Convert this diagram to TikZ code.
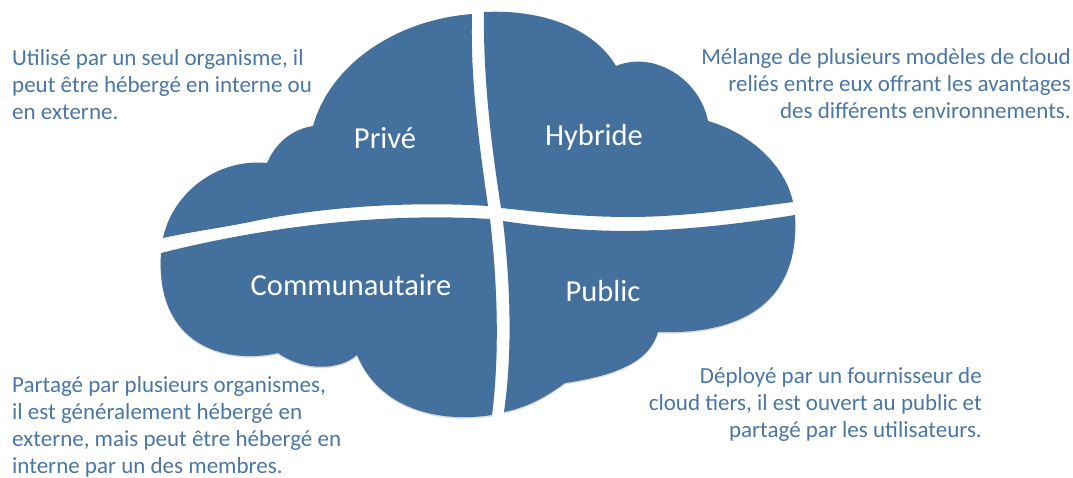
\documentclass[tikz,border=0pt]{standalone}
\usepackage{fontspec}
\setmainfont{Carlito}
\definecolor{cloudblue}{HTML}{43709D}
\definecolor{textblue}{HTML}{4A76A3}
\tikzset{
  quarter/.style={fill=cloudblue,draw=none},
  lowquarter/.style={quarter,preaction={fill=black!14,transform canvas={yshift=-1.5pt}}},
  title/.style={text=white,font=\fontsize{30.5}{36}\selectfont,inner sep=0pt},
  desc/.style={text=textblue,font=\fontsize{23}{27}\selectfont,inner sep=0pt}
}
\begin{document}
\begin{tikzpicture}[x=1pt,y=-1pt]
\useasboundingbox (0,0) rectangle (1073,477);
% Prive
\path[quarter] (163,238) .. controls (172,195) and (215,158) .. (267,163)
 .. controls (276,142) and (293,129) .. (313,126)
 .. controls (330,65) and (395,20) .. (472,14)
 .. controls (470,80) and (480,150) .. (488,206)
 .. controls (410,201) and (320,207) .. (250,222)
 .. controls (220,228) and (190,232) .. (163,238) -- cycle;
% Hybride
\path[quarter] (484,12) .. controls (545,9) and (595,30) .. (616,66)
 .. controls (655,50) and (700,80) .. (708,121)
 .. controls (750,133) and (785,165) .. (793,202)
 .. controls (740,209) and (680,217) .. (630,217)
 .. controls (580,217) and (540,212) .. (501,208)
 .. controls (492,150) and (483,80) .. (484,12) -- cycle;
% Communautaire
\path[lowquarter] (161,253) .. controls (260,228) and (380,212) .. (490,219)
 .. controls (497,280) and (500,350) .. (492,415)
 .. controls (440,423) and (380,410) .. (357,355)
 .. controls (340,370) and (305,372) .. (278,353)
 .. controls (225,365) and (155,345) .. (161,253) -- cycle;
% Public
\path[lowquarter] (503,221) .. controls (550,228) and (590,231) .. (630,231)
 .. controls (690,230) and (745,223) .. (795,215)
 .. controls (800,300) and (745,335) .. (658,332)
 .. controls (650,360) and (620,375) .. (565,383)
 .. controls (545,398) and (525,408) .. (504,412)
 .. controls (513,350) and (510,280) .. (503,221) -- cycle;
\node[title] (prive) at (385,138) {Privé};
\node[title] (hybride) at (594,137) {Hybride};
\node[title] (comm) at (351,285) {Communautaire};
\node[title] (public) at (603,291) {Public};
\node[desc,anchor=north west,align=left] (dprive) at (12,49) {Utilisé par un seul organisme, il\\peut être hébergé en interne ou\\en externe.};
\node[desc,anchor=north east,align=right] (dhyb) at (1071,48) {Mélange de plusieurs modèles de cloud\\reliés entre eux offrant les avantages\\des différents environnements.};
\node[desc,anchor=north west,align=left] (dcomm) at (12,376) {Partagé par plusieurs organismes,\\il est généralement hébergé en\\externe, mais peut être hébergé en\\interne par un des membres.};
\node[desc,anchor=north east,align=right] (dpub) at (982,367) {Déployé par un fournisseur de\\cloud tiers, il est ouvert au public et\\partagé par les utilisateurs.};
\end{tikzpicture}
\end{document}
